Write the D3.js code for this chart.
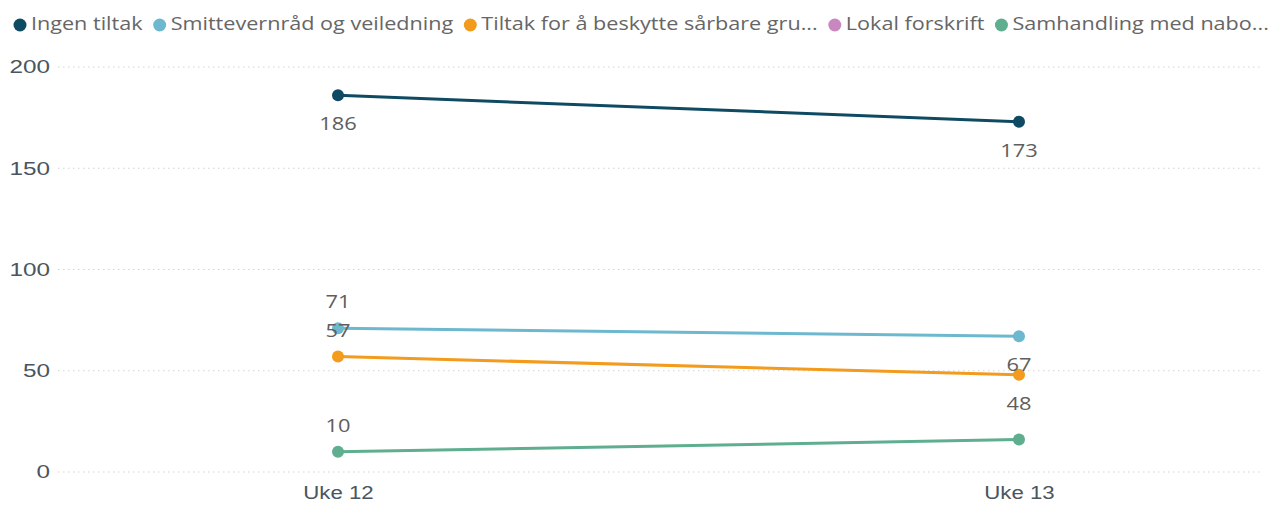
<!DOCTYPE html>
<html><head><meta charset="utf-8">
<script src="https://cdn.jsdelivr.net/npm/d3@7"></script>
<style>body{margin:0;background:#fff;} svg{display:block;font-family:"Open Sans",sans-serif;}</style>
</head><body><svg id="c" width="1273" height="506"></svg>
<script>
const categories = ["Uke 12", "Uke 13"];
const seriesNames = ["Ingen tiltak", "Smittevernråd og veiledning", "Tiltak for å beskytte sårbare gru...", "Lokal forskrift", "Samhandling med nabo..."];
const seriesColors = ["#0f4a63", "#6db8cf", "#f29b1d", "#c987bf", "#5fae90"];
const ingenTiltak = [186, 173];
const smittevern = [71, 67];
const saarbare = [57, 48];
const lokalForskrift = [null, null];
const samhandling = [10, 16];
const yTicks = [0, 50, 100, 150, 200];
// label placement per point: "above" / "below" / null (hidden)
const labelPos = [["below","below"],["above","below"],["above","below"],[null,null],["above",null]];

const allValues = [ingenTiltak, smittevern, saarbare, lokalForskrift, samhandling];
const svg = d3.select("#c");
const x = d3.scalePoint().domain(categories).range([338, 1019]);
const y = d3.scaleLinear().domain([0, 200]).range([472, 67]);

function stretch(sel, sx) {
  sel.each(function() {
    const t = d3.select(this);
    const tx = +t.attr("x") || 0, ty = +t.attr("y") || 0;
    t.attr("transform", `translate(${tx},${ty}) scale(${sx},1) translate(${-tx},${-ty})`);
  });
}

// gridlines
svg.append("g").selectAll("line").data(yTicks).join("line")
  .attr("x1", 58).attr("x2", 1262)
  .attr("y1", d => y(d)).attr("y2", d => y(d))
  .attr("stroke", "#d4d4d4").attr("stroke-width", 1.2).attr("stroke-dasharray", "1.5,3.5");

// y axis
const yAxis = d3.axisLeft(y).tickValues(yTicks).tickSize(0).tickPadding(0);
const ya = svg.append("g").attr("transform", "translate(50,0)").call(yAxis);
ya.select(".domain").remove();
ya.selectAll("text").attr("fill", "#4a5560").attr("font-size", 18).attr("x", 0);
stretch(ya.selectAll("text"), 1.35);

// x axis
const xAxis = d3.axisBottom(x).tickSize(0).tickPadding(0);
const xa = svg.append("g").attr("transform", "translate(0,482)").call(xAxis);
xa.select(".domain").remove();
xa.selectAll("text").attr("fill", "#4a5560").attr("font-size", 19).attr("dy", "0.9em");
stretch(xa.selectAll("text"), 1.17);

// lines
const line = d3.line().defined(d => d.v != null).x(d => x(d.c)).y(d => y(d.v));
allValues.forEach((vals, i) => {
  const pts = categories.map((c, j) => ({c, v: vals[j]}));
  const g = svg.append("g");
  g.append("path").datum(pts).attr("d", line).attr("fill", "none")
    .attr("stroke", seriesColors[i]).attr("stroke-width", 3);
  g.selectAll("circle").data(pts.filter(d => d.v != null)).join("circle")
    .attr("cx", d => x(d.c)).attr("cy", d => y(d.v)).attr("r", 6)
    .attr("fill", seriesColors[i]);
});
// labels
allValues.forEach((vals, i) => {
  categories.forEach((c, j) => {
    const p = labelPos[i][j];
    if (vals[j] == null || !p) return;
    const t = svg.append("text").attr("x", x(c)).attr("y", y(vals[j]) + (p === "above" ? -25 : 30))
      .attr("text-anchor", "middle").attr("dominant-baseline", "middle")
      .attr("font-size", 19).attr("fill", "#605e5c").text(vals[j]);
    stretch(t, 1.15);
  });
});

// legend
const lg = svg.append("g").attr("transform", "translate(0,25)");
const lsx = 1.2;
let lx = 20;
seriesNames.forEach((n, i) => {
  lg.append("circle").attr("cx", lx).attr("cy", 0).attr("r", 6.5).attr("fill", seriesColors[i]);
  const t = lg.append("text").attr("x", lx + 11).attr("y", 0).attr("dominant-baseline", "middle")
    .attr("font-size", 18).attr("fill", "#666").text(n);
  const w = t.node().getComputedTextLength() * lsx;
  stretch(t, lsx);
  lx += 11 + w + 17;
});
</script></body></html>
